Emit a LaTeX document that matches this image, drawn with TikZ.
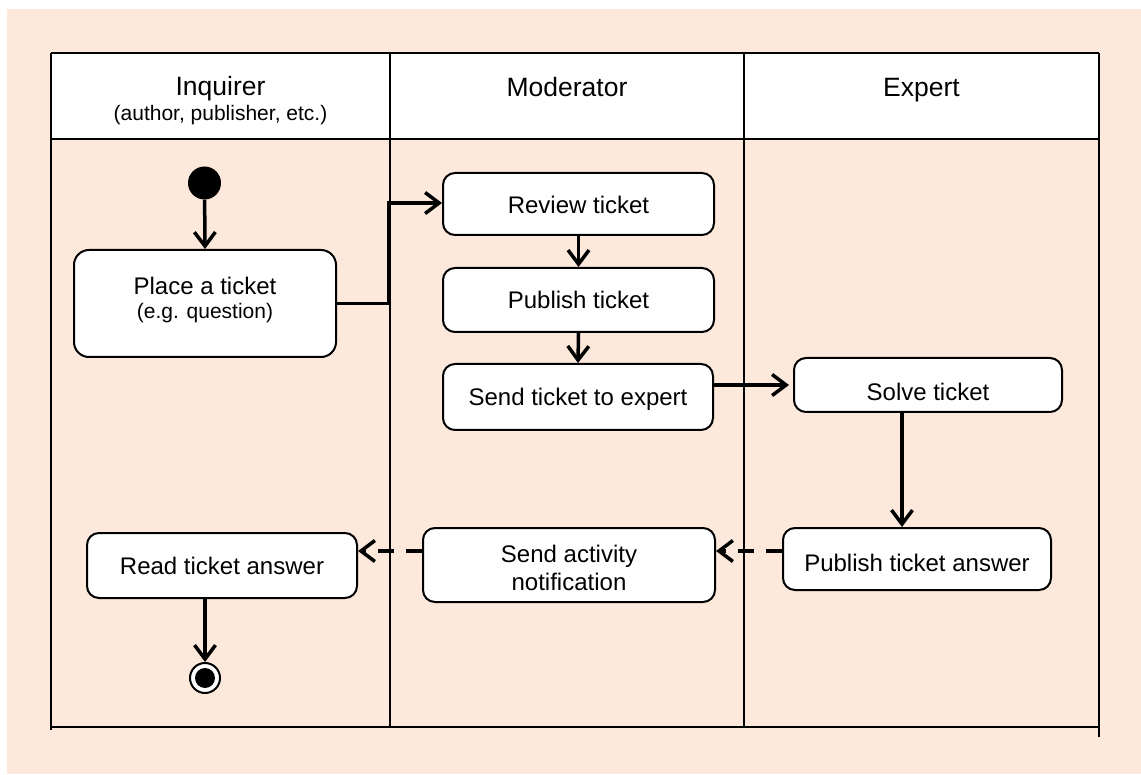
\documentclass[tikz,border=0pt]{standalone}
\usepackage{fontspec}
\setmainfont{Liberation Sans}
\usetikzlibrary{arrows.meta}
\definecolor{bgpeach}{RGB}{252,233,220}
\begin{document}
\begin{tikzpicture}[x=1pt,y=-1pt,
  lane/.style={line width=2pt},
  hdr/.style={anchor=base,inner sep=0pt,font=\fontsize{26.5}{30}\selectfont},
  hdrsmall/.style={anchor=base,inner sep=0pt,font=\fontsize{21}{24}\selectfont},
  box/.style={draw,line width=2pt,rounded corners=12pt,fill=white,inner sep=0pt,
    font=\fontsize{24}{27}\selectfont,text depth=0pt},
  txt/.style={anchor=base,inner sep=0pt,font=\fontsize{24}{27}\selectfont},
  txtsmall/.style={anchor=base,inner sep=0pt,font=\fontsize{21}{24}\selectfont},
  conn/.style={line width=3.5pt,-{Straight Barb[length=14pt,width=21pt]}},
  dconn/.style={conn,dash pattern=on 16pt off 12pt},
]
\useasboundingbox (0,0) rectangle (1141,775);
\fill[bgpeach] (7,9) rectangle (1141,774);
% swimlane frame
\fill[white] (51,53) rectangle (1099,139);
\draw[lane] (51,53) -- (1099,53);
\draw[lane] (51,139) -- (1099,139);
\draw[lane] (51,727) -- (1099,727);
\draw[lane] (51,53) -- (51,730);
\draw[lane] (390,53) -- (390,727);
\draw[lane] (744,53) -- (744,727);
\draw[lane] (1099,53) -- (1099,737);
% headers
\node[hdr] (hinq) at (220.5,96) {Inquirer};
\node[hdrsmall] (hinq2) at (220.5,121) {(author, publisher, etc.)};
\node[hdr] (hmod) at (567,96.5) {Moderator};
\node[hdr] (hexp) at (921.5,96.5) {Expert};
% start / end
\node[circle,fill=black,minimum size=33pt,inner sep=0pt] (start) at (204.5,183) {};
\node[circle,draw,line width=2pt,fill=white,minimum size=30pt,inner sep=0pt] (end) at (205,678) {};
\fill[black] (end.center) circle[radius=10pt];
% boxes
\node[box,rounded corners=15pt,minimum width=262pt,minimum height=107pt] (place) at (205,303.5) {};
\node[txt] (placet1) at (205,295) {Place a ticket};
\node[txtsmall] (placet2) at (205,319) {(e.g. question)};
\node[box,minimum width=271pt,minimum height=62pt,text height=20pt] (review) at (578.5,204) {Review ticket};
\node[box,minimum width=271pt,minimum height=64pt,text height=18pt] (publish) at (578.5,300) {Publish ticket};
\node[box,minimum width=270pt,minimum height=66pt,text height=18pt] (send) at (578,397) {Send ticket to expert};
\node[box,minimum width=268pt,minimum height=54pt,text height=31pt] (solve) at (928,385) {Solve ticket};
\node[box,minimum width=268pt,minimum height=62pt,text height=24pt] (answer) at (917,559) {Publish ticket answer};
\node[box,minimum width=292pt,minimum height=74pt] (notify) at (569,565) {};
\node[txt] (notifyt1) at (569,562) {Send activity};
\node[txt] (notifyt2) at (569,590) {notification};
\node[box,minimum width=270pt,minimum height=65pt,text height=17pt] (read) at (222,565.5) {Read ticket answer};
% connectors
\draw[conn] (start) -- (place.north);
\draw[conn] (place.east) -- ++(52,0) |- ([yshift=1pt]review.west);
\draw[conn] (review.south) -- (publish.north);
\draw[conn] (publish.south) -- (send.north);
\draw[conn] (send.east |- solve.west) -- ([xshift=-4pt]solve.west);
\draw[conn] ([xshift=-26pt]solve.south) -- ([xshift=-26pt]solve.south |- answer.north);
\draw[dconn] ([yshift=8pt]answer.west) -- ([yshift=8pt]answer.west -| notify.east);
\draw[dconn] ([yshift=8pt]answer.west -| notify.west) -- ([yshift=8pt]answer.west -| read.east);
\draw[conn] (read.south -| end.north) -- (end.north);
\end{tikzpicture}
\end{document}
